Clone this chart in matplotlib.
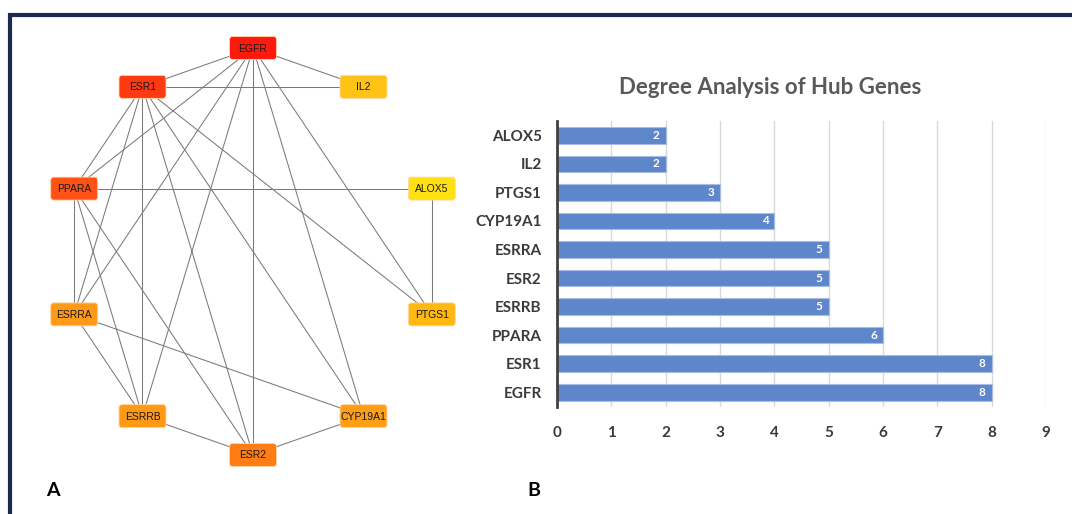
import numpy as np
import matplotlib.pyplot as plt
from matplotlib.patches import FancyBboxPatch
from matplotlib.lines import Line2D

# panel A: PPI network, nodes in circle order starting at the top (counter-clockwise)
nodes = ['EGFR', 'ESR1', 'PPARA', 'ESRRA', 'ESRRB', 'ESR2',
         'CYP19A1', 'PTGS1', 'ALOX5', 'IL2']
node_colors = ['#FF1A0F', '#FF3A12', '#FF5216', '#FF9A18', '#FF9A18',
               '#FF7D14', '#FF9F18', '#FFB912', '#FFE013', '#FFC315']
edges = [('EGFR', 'ESR1'), ('EGFR', 'IL2'), ('EGFR', 'ESR2'), ('EGFR', 'PTGS1'),
         ('EGFR', 'CYP19A1'), ('EGFR', 'PPARA'), ('EGFR', 'ESRRA'), ('EGFR', 'ESRRB'),
         ('ESR1', 'IL2'), ('ESR1', 'PTGS1'), ('ESR1', 'CYP19A1'), ('ESR1', 'ESR2'),
         ('ESR1', 'ESRRB'), ('ESR1', 'ESRRA'), ('ESR1', 'PPARA'),
         ('PPARA', 'ALOX5'), ('PPARA', 'ESRRA'), ('PPARA', 'ESRRB'), ('PPARA', 'ESR2'),
         ('ESRRA', 'CYP19A1'), ('ESRRA', 'ESRRB'),
         ('ESRRB', 'ESR2'), ('ESR2', 'CYP19A1'), ('ALOX5', 'PTGS1')]

# panel B: degree of each hub gene (bottom to top)
genes = ['EGFR', 'ESR1', 'PPARA', 'ESRRB', 'ESR2', 'ESRRA',
         'CYP19A1', 'PTGS1', 'IL2', 'ALOX5']
degree = [8, 8, 6, 5, 5, 5, 4, 3, 2, 2]

W, H = 1072, 514
fig = plt.figure(figsize=(W / 100, H / 100), dpi=100)

# background axes in pixel units (y downwards) for frame + network
ax0 = fig.add_axes([0, 0, 1, 1])
ax0.set_xlim(0, W)
ax0.set_ylim(H, 0)
ax0.axis('off')

# frame (only top and left visible)
ax0.add_line(Line2D([10, 10, W + 5], [H + 5, 15, 15], color='#1B2B4D', lw=3,
                    solid_joinstyle='miter'))

# circular (elliptic) layout
cx, cy, rx, ry = 253, 251.5, 188, 203.5
ang = np.deg2rad(90 + 36 * np.arange(len(nodes)))
pos = {n: (cx + rx * np.cos(a), cy - ry * np.sin(a)) for n, a in zip(nodes, ang)}

for a, b in edges:
    (x1, y1), (x2, y2) = pos[a], pos[b]
    ax0.plot([x1, x2], [y1, y2], color='#7a7a7a', lw=0.75, zorder=1)

bw, bh = 47, 23
for n, c in zip(nodes, node_colors):
    x, y = pos[n]
    box = FancyBboxPatch((x - bw / 2, y - bh / 2), bw, bh,
                         boxstyle='round,pad=0,rounding_size=3',
                         fc=c, ec='#ffd8a8', lw=0.6, zorder=2)
    ax0.add_patch(box)
    ax0.text(x, y + 0.5, n, ha='center', va='center', fontsize=7.5,
             family='Liberation Sans', color='#1a1a1a', zorder=3)

# panel B: bar chart
x0, x9 = 557, 1046
ytop, ybot = 121, 406.5
ax = fig.add_axes([x0 / W, (H - ybot) / H, (x9 - x0) / W, (ybot - ytop) / H])
yy = np.arange(len(genes))
ax.barh(yy, degree, height=0.58, color='#5E86CB', edgecolor='#A9BDE3', lw=0.8, zorder=2)
for i, v in enumerate(degree):
    ax.text(v - 0.11, i, str(v), ha='right', va='center', color='white',
            fontsize=8.5, fontweight='bold', family='Lato', zorder=3)

ax.set_xlim(0, 9)
ax.set_ylim(-0.5, 9.5)
ax.set_xticks(range(10))
ax.set_yticks(yy)
ax.set_yticklabels(genes)
ax.xaxis.grid(True, color='#d9d9d9', lw=1, zorder=0)
ax.set_axisbelow(True)
for s in ['top', 'right', 'bottom']:
    ax.spines[s].set_visible(False)
ax.spines['left'].set_color('#404040')
ax.spines['left'].set_linewidth(2)
ax.spines['left'].set_zorder(4)
ax.tick_params(length=0)
ax.tick_params(axis='x', pad=14)
ax.tick_params(axis='y', pad=11)
for lab in ax.get_xticklabels() + ax.get_yticklabels():
    lab.set_family('Lato')
    lab.set_fontweight('bold')
    lab.set_fontsize(11)
    lab.set_color('#3a3a3a')

fig.text(770 / W, 1 - 87 / H, 'Degree Analysis of Hub Genes', ha='center', va='center',
         fontsize=16, fontweight='bold', family='Lato', color='#595959')

fig.text(53 / W, 1 - 490 / H, 'A', ha='center', va='center', fontsize=14,
         fontweight='bold', family='Lato', color='black')
fig.text(534 / W, 1 - 490 / H, 'B', ha='center', va='center', fontsize=14,
         fontweight='bold', family='Lato', color='black')

fig.savefig('out.png', dpi=100)
